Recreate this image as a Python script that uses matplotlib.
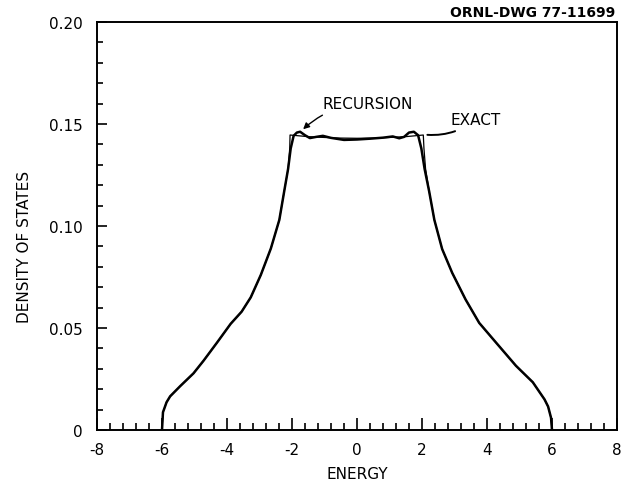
import matplotlib.pyplot as plt
from matplotlib.ticker import MultipleLocator

# energy / density of states
# left wing (shared by both curves)
left_e = [-6.0, -5.97, -5.86, -5.75, -5.44, -5.03, -4.72, -4.30, -3.89, -3.55, -3.27, -2.96, -2.65, -2.39, -2.24]
left_d = [0.0, 0.0087, 0.0136, 0.0165, 0.0215, 0.0278, 0.034, 0.043, 0.052, 0.058, 0.065, 0.076, 0.089, 0.103, 0.117]
# right wing (shared by both curves)
right_e = [2.22, 2.38, 2.62, 2.93, 3.34, 3.76, 4.27, 4.89, 5.41, 5.77, 5.88, 5.97, 6.0]
right_d = [0.117, 0.103, 0.0887, 0.077, 0.064, 0.0525, 0.043, 0.0315, 0.0234, 0.015, 0.0115, 0.006, 0.0]

# top part, exact curve
exact_top_e = [-2.12, -2.07, -2.06, -1.5, -1.0, -0.5, 0.0, 0.5, 1.0, 1.5, 2.04, 2.06, 2.11]
exact_top_d = [0.128, 0.138, 0.1446, 0.1438, 0.1434, 0.1431, 0.1430, 0.1431, 0.1434, 0.1438, 0.1446, 0.138, 0.128]

# top part, recursion curve
rec_top_e = [-2.12, -2.04, -1.95, -1.85, -1.75, -1.6, -1.45, -1.25, -1.05, -0.8, -0.4, 0.0,
             0.4, 0.8, 1.1, 1.3, 1.45, 1.6, 1.75, 1.88, 1.98, 2.08]
rec_top_d = [0.128, 0.138, 0.1442, 0.1458, 0.1462, 0.1445, 0.1431, 0.1437, 0.1442, 0.1432, 0.1422, 0.1424,
             0.1428, 0.1433, 0.1439, 0.1430, 0.1437, 0.1458, 0.1462, 0.1445, 0.138, 0.128]

x_ticks = [-8, -6, -4, -2, 0, 2, 4, 6, 8]
y_ticks = [0, 0.05, 0.10, 0.15, 0.20]
y_tick_labels = ['0', '0.05', '0.10', '0.15', '0.20']

fig = plt.figure(figsize=(6.28, 4.89), dpi=100)
ax = fig.add_axes([97 / 628, 58 / 489, 520 / 628, 408 / 489])

exact_e = left_e + exact_top_e + right_e
exact_d = left_d + exact_top_d + right_d
rec_e = left_e + rec_top_e + right_e
rec_d = left_d + rec_top_d + right_d

ax.plot(exact_e, exact_d, color='black', lw=0.9)
ax.plot(rec_e, rec_d, color='black', lw=1.8, solid_joinstyle='round')

ax.set_xlim(-8, 8)
ax.set_ylim(0, 0.20)

ax.set_xticks(x_ticks)
ax.set_xticklabels([str(t) for t in x_ticks])
ax.set_yticks(y_ticks)
ax.set_yticklabels(y_tick_labels)
ax.xaxis.set_minor_locator(MultipleLocator(0.4))
ax.yaxis.set_minor_locator(MultipleLocator(0.01))

ax.tick_params(which='both', direction='in', top=False, right=False, labelsize=11, width=1.2)
ax.tick_params(axis='x', which='major', length=9, pad=9)
ax.tick_params(axis='x', which='minor', length=5)
ax.tick_params(axis='y', which='major', length=7, pad=10)
ax.tick_params(axis='y', which='minor', length=4)

for sp in ax.spines.values():
    sp.set_linewidth(1.4)

ax.set_xlabel('ENERGY', fontsize=11, labelpad=6)
ax.set_ylabel('DENSITY OF STATES', fontsize=11, labelpad=14)
ax.yaxis.set_label_coords(-0.125, 0.45)

ax.annotate('RECURSION', xy=(-1.72, 0.1465), xytext=(-1.05, 0.160),
            fontsize=11, va='center', ha='left',
            arrowprops=dict(arrowstyle='-|>', color='black', lw=1.0,
                            connectionstyle='arc3,rad=0.2', mutation_scale=9))
ax.annotate('EXACT', xy=(2.08, 0.1448), xytext=(2.87, 0.152),
            fontsize=11, va='center', ha='left',
            arrowprops=dict(arrowstyle='-', color='black', lw=1.4,
                            connectionstyle='arc3,rad=-0.2'))

fig.text(615 / 628, 1 - 13 / 489, 'ORNL-DWG 77-11699', ha='right', va='center',
         fontsize=10, fontweight='bold')

fig.savefig('out.png', dpi=100)
